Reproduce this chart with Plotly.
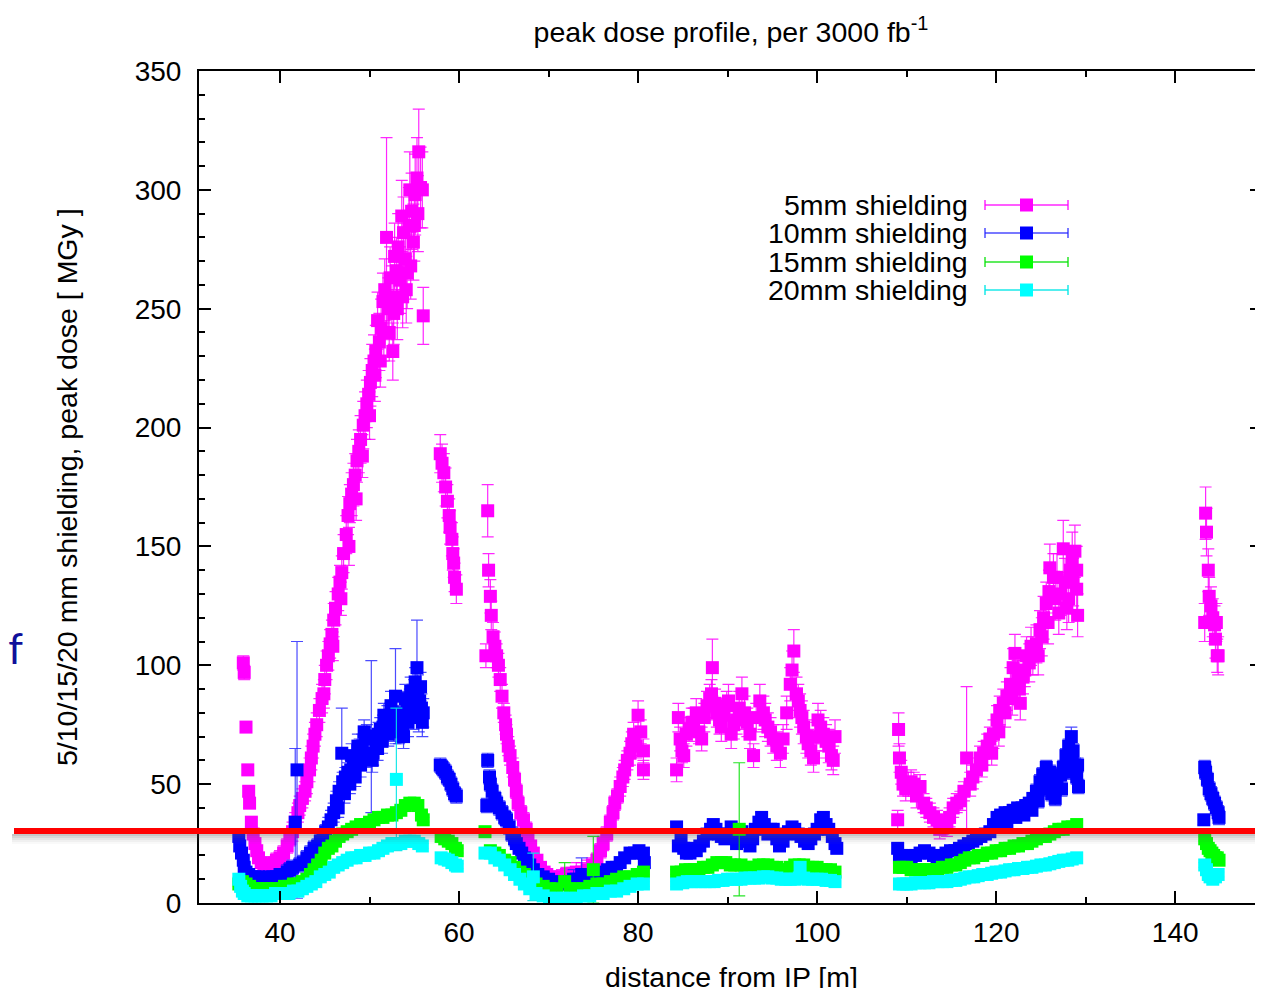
import plotly.graph_objects as go

FONT = "Liberation Sans, Arial, Helvetica, sans-serif"

# ---------------- data ----------------
series_names = ["5mm shielding", "10mm shielding", "15mm shielding", "20mm shielding"]
series_colors = ["#ff00ff", "#0000ff", "#00ff00", "#00ffff"]
bar_colors = ["rgba(255,0,255,0.85)", "rgba(30,30,255,0.8)", "rgba(0,225,0,0.85)", "rgba(0,230,230,0.9)"]

x_5mm = [
    35.9, 36.0, 36.2, 36.4, 36.5, 36.6, 36.8, 37.0, 37.2, 37.4, 37.6, 37.9, 38.2, 38.5, 38.9, 39.3, 39.6, 40.0,
    40.4, 40.8, 41.1, 41.4, 41.7, 42.0, 42.2, 42.5, 42.8, 43.0, 43.3, 43.5, 43.7, 43.9, 44.1, 44.4, 44.7, 45.0,
    45.2, 45.4, 45.6, 45.8, 46.0, 46.2, 46.5, 46.7, 46.9, 47.1, 47.4, 47.6, 47.8, 48.0, 48.2, 48.4, 48.6, 48.8,
    49.0, 49.3, 49.5, 49.7, 49.9, 50.1, 50.3, 50.5, 50.7, 50.9, 51.1, 51.3, 51.5, 51.7, 51.9, 52.1, 52.3, 52.5,
    52.7, 52.8, 53.0, 53.2, 53.4, 53.6, 53.8, 54.0, 54.2, 54.4, 54.5, 54.7, 54.9, 55.1, 55.3, 55.5, 55.7, 55.9, 56.0,
    57.9, 58.1, 58.3, 58.5, 58.7, 58.9, 59.0, 59.2, 59.3, 59.4, 59.5, 59.7,
    63.2, 63.3, 63.5, 63.6, 63.8, 63.0, 64.0, 64.2, 64.4, 64.6, 64.8, 65.0, 65.2, 65.3, 65.5, 65.7, 66.0, 66.2,
    66.4, 66.6, 66.9, 67.2, 67.5, 67.7, 68.0, 68.3, 68.7, 69.1, 69.5, 69.8, 70.3, 70.9, 71.5, 72.0, 72.6, 73.1,
    73.7, 74.3, 74.9, 75.4, 75.8, 76.1, 76.5, 76.9, 77.2, 77.4, 77.7, 78.0, 78.3, 78.5, 78.8, 79.1, 79.3, 79.5,
    79.8, 80.0, 80.3, 80.6, 80.6,
    84.3, 84.5, 84.7, 84.9, 85.1, 85.4, 85.7, 86.0, 86.2, 86.5, 86.8, 87.1, 87.4, 87.7, 88.0, 88.2, 88.3, 88.6,
    88.8, 89.1, 89.3, 89.6, 89.9, 90.1, 90.4, 90.7, 91.0, 91.3, 91.6, 91.9, 92.2, 92.5, 92.9, 93.2, 93.6, 94.0,
    94.2, 94.5, 94.8, 95.1, 95.5, 95.9, 96.2, 96.6, 97.0, 97.2, 97.4, 97.7, 97.9, 98.1, 98.3, 98.5, 98.8, 99.0,
    99.3, 99.6, 99.9, 100.1, 100.4, 100.7, 101.0, 101.3, 101.6, 101.8, 102.0,
    109.0, 109.1, 109.2, 109.4, 109.6, 109.9, 110.2, 110.5, 110.8, 111.1, 111.5, 111.9, 112.2, 112.6, 113.0,
    113.4, 113.7, 114.1, 114.5, 114.8, 115.2, 115.6, 116.0, 116.4, 116.7, 117.1, 117.4, 117.8, 118.2, 118.6,
    119.0, 119.3, 119.7, 120.1, 120.4, 120.8, 121.2, 121.6, 121.9, 122.1, 122.4, 122.7, 123.0, 123.4, 123.7,
    124.1, 124.5, 124.9, 125.3, 125.6, 125.9, 126.0, 126.4, 126.8, 127.2, 127.5, 127.9, 128.3, 128.6, 128.8,
    129.0, 129.1,
    143.3, 143.4, 143.5, 143.7, 143.8, 144.0, 144.2, 144.4, 144.5, 144.6, 144.7, 144.8,
    # scatter inside the thick bands
    44.9, 45.9, 46.8, 47.7, 48.5, 49.2, 50.0, 50.6, 51.2, 51.6, 52.2, 52.6, 53.1, 53.7, 54.1, 54.6, 55.0, 55.4,
    118.4, 119.5, 120.3, 121.0, 121.8, 122.6, 123.2, 123.9, 124.7, 125.1, 125.8, 126.6, 127.0, 127.7, 128.1,
    128.5, 129.0,
]
y_5mm = [
    101, 97, 74, 56, 47, 42, 34, 29, 25, 22, 19, 17, 16, 15, 16, 17, 18, 19,
    21, 24, 27, 30, 34, 38, 41, 44, 47, 51, 56, 61, 66, 71, 75, 81, 86, 94,
    100, 104, 109, 113, 119, 124, 130, 135, 139, 147, 155, 163, 168, 172, 176, 180, 186, 190,
    195, 201, 205, 210, 214, 219, 224, 228, 232, 245, 236, 242, 253, 258, 280, 250, 263, 255,
    248, 272, 266, 276, 262, 289, 282, 271, 265, 285, 300, 291, 278, 298, 305, 316, 301, 300, 247,
    189, 185, 181, 175, 169, 163, 158, 153, 147, 143, 137, 132,
    165, 140, 129, 121, 112, 104, 108, 104, 100, 94, 87, 80, 75, 71, 66, 62, 57, 52,
    47, 42, 38, 35, 31, 28, 24, 21, 18, 15, 13, 12, 11, 11, 11, 12, 12, 13,
    13, 14, 16, 18, 22, 25, 29, 34, 38, 42, 45, 49, 53, 56, 60, 63, 67, 71,
    66, 79, 72, 64, 56,
    56, 78, 69, 64, 62, 71, 73, 76, 76, 80, 72, 69, 78, 83, 86, 88, 99, 84,
    80, 77, 74, 79, 83, 85, 71, 75, 77, 82, 88, 80, 76, 71, 62, 78, 85, 80,
    77, 74, 72, 69, 66, 63, 69, 80, 92, 98, 106, 88, 85, 81, 78, 74, 70, 67,
    64, 61, 70, 77, 74, 71, 68, 66, 62, 60, 70,
    35, 73, 61, 55, 50, 48, 50, 51, 50, 45, 49, 42, 40, 38, 36,
    35, 31, 33, 32, 36, 40, 42, 43, 47, 61, 50, 53, 56, 61, 63,
    66, 69, 71, 77, 81, 84, 87, 92, 99, 105, 95, 84, 95, 104, 101,
    104, 109, 115, 120, 126, 131, 141, 137, 137, 130, 149, 124, 140, 135, 148,
    132, 121,
    118, 164, 156, 140, 129, 125, 120, 117, 111, 118, 104, 104,
    88, 108, 128, 150, 170, 188, 205, 222, 228, 240, 240, 232, 250, 255, 258, 268, 285, 290,
    58, 63, 72, 80, 86, 90, 98, 108, 104, 112, 118, 128, 122, 135, 128,
    145, 140,
]
err_5mm = [
    3, 3, 2, 2, 2, 2, 2, 2, 2, 2, 2, 2, 2, 2, 2, 2, 3, 3,
    3, 3, 3, 4, 4, 4, 4, 4, 4, 5, 5, 5, 5, 5, 5, 5, 6, 6,
    6, 6, 6, 6, 7, 7, 7, 7, 7, 8, 8, 8, 8, 9, 9, 9, 9, 9,
    10, 10, 10, 10, 10, 10, 11, 11, 11, 12, 12, 12, 12, 13, 42, 13, 13, 13,
    13, 14, 14, 14, 14, 15, 15, 15, 15, 16, 16, 16, 16, 17, 17, 18, 17, 16, 12,
    8, 8, 8, 8, 7, 7, 7, 7, 7, 6, 6, 6,
    11, 7, 7, 6, 6, 5, 6, 5, 5, 5, 5, 4, 4, 4, 4, 4, 4, 3,
    3, 3, 3, 3, 3, 3, 2, 2, 2, 2, 2, 2, 2, 2, 3, 3, 3, 4,
    4, 4, 3, 3, 3, 3, 3, 3, 3, 3, 3, 4, 4, 4, 4, 5, 5, 5,
    5, 6, 5, 5, 4,
    5, 6, 5, 5, 5, 5, 5, 6, 6, 6, 5, 5, 6, 6, 6, 6, 12, 6,
    6, 6, 6, 6, 6, 7, 6, 6, 6, 7, 7, 7, 6, 6, 5, 6, 7, 7,
    7, 6, 6, 6, 6, 6, 6, 7, 7, 8, 9, 7, 7, 7, 7, 7, 7, 6,
    6, 6, 6, 7, 7, 7, 7, 7, 6, 6, 7,
    4, 7, 6, 5, 5, 5, 5, 5, 5, 5, 5, 4, 4, 4, 4,
    4, 4, 4, 4, 4, 4, 4, 4, 4, 30, 5, 5, 5, 5, 5,
    5, 5, 6, 6, 6, 6, 6, 7, 8, 8, 7, 7, 7, 8, 8,
    8, 8, 8, 9, 9, 9, 10, 10, 10, 9, 12, 9, 10, 10, 11,
    9, 9,
    8, 11, 10, 9, 8, 8, 8, 8, 8, 8, 7, 8,
    6, 6, 7, 8, 9, 9, 10, 11, 11, 12, 12, 12, 13, 13, 14, 14, 15, 16,
    5, 5, 6, 6, 7, 7, 7, 8, 8, 8, 9, 9, 9, 10, 10,
    11, 10,
]

x_10mm = [
    35.4, 35.5, 35.7, 35.9, 36.0, 36.2, 36.5, 36.8, 37.2, 37.6, 38.0, 38.4, 38.8, 39.2, 39.6, 40.0, 40.4, 40.8,
    41.1, 41.4, 41.7, 41.9, 42.2, 42.6, 43.0, 43.4, 43.8, 44.2, 44.5, 44.8, 45.1, 45.4, 45.7, 46.0, 46.3, 46.6,
    46.9, 47.0, 47.3, 47.6, 47.9, 48.2, 48.5, 48.9, 49.2, 49.5, 49.7, 50.2, 50.4, 50.7, 51.0, 51.2, 51.5, 51.8,
    52.0, 52.3, 52.6, 52.9, 53.1, 53.4, 53.7, 53.9, 54.2, 54.5, 54.8, 55.0, 55.3, 55.4, 55.6, 55.8, 56.0,
    57.9, 58.1, 58.3, 58.5, 58.7, 58.9, 59.1, 59.3, 59.5, 59.7,
    63.2, 63.4, 63.5, 63.7, 63.1, 64.0, 64.2, 64.5, 64.8, 65.1, 65.3, 65.6, 65.9, 66.2, 66.4, 66.7, 67.0, 67.3,
    67.5, 67.9, 68.3, 68.8, 69.4, 70.0, 70.6, 71.2, 71.7, 72.3, 72.8, 73.1, 73.7, 74.0, 74.6, 75.2, 75.6, 76.1,
    76.6, 77.1, 77.6, 78.0, 78.5, 79.1, 79.6, 80.1, 80.6, 80.7,
    84.3, 84.5, 84.8, 85.1, 85.4, 85.8, 86.1, 86.5, 86.9, 87.3, 87.7, 88.1, 88.4, 88.7, 89.0, 89.3, 89.7, 90.0,
    90.4, 90.7, 91.0, 91.3, 91.6, 91.9, 92.2, 92.5, 92.8, 93.1, 93.5, 93.8, 94.1, 94.5, 94.8, 95.1, 95.5, 95.8,
    96.2, 96.5, 96.8, 97.2, 97.5, 97.9, 98.2, 98.6, 99.0, 99.3, 99.7, 100.0, 100.4, 100.7, 101.0, 101.3, 101.7,
    102.0, 102.2,
    109.0, 109.2, 109.5, 110.0, 110.5, 111.0, 111.5, 112.0, 112.5, 113.0, 113.4, 113.9, 114.4, 114.9, 115.4,
    115.9, 116.4, 116.9, 117.4, 117.8, 118.3, 118.8, 119.3, 119.7, 120.1, 120.5, 121.0, 121.5, 121.9, 122.4,
    122.9, 123.3, 123.7, 124.1, 124.5, 124.9, 125.2, 125.6, 125.9, 126.2, 126.5, 126.8, 127.2, 127.5, 127.8,
    128.1, 128.4, 128.6, 128.8, 129.0, 129.2,
    143.2, 143.3, 143.4, 143.6, 143.8, 144.0, 144.2, 144.4, 144.6, 144.8, 144.9,
    # scatter inside the thick bands
    46.5, 47.2, 47.8, 48.4, 49.0, 49.6, 50.3, 50.9, 51.4, 52.1, 52.7, 53.3, 53.8, 54.3, 54.9, 55.5, 55.9,
    48.0, 48.7, 49.4, 51.6, 52.4, 54.0, 54.6, 55.1, 55.7,
    120.3, 121.2, 122.2, 123.1, 124.0, 124.7, 125.4, 126.0, 126.6, 127.3, 128.0, 128.5, 129.1,
]
y_10mm = [
    28, 24, 21, 18, 15, 13, 12, 11, 11, 11, 10, 10, 11, 11, 11, 12, 12, 13,
    14, 15, 34, 56, 16, 17, 19, 21, 23, 24, 26, 28, 30, 32, 35, 38, 43, 47,
    63, 51, 53, 55, 56, 57, 60, 64, 66, 69, 70, 70, 63, 68, 71, 73, 74, 76,
    78, 79, 80, 87, 78, 76, 74, 80, 83, 84, 86, 88, 99, 90, 85, 82, 80,
    58, 57, 56, 55, 53, 52, 50, 48, 46, 45,
    60, 53, 50, 47, 41, 44, 42, 40, 38, 36, 35, 32, 29, 27, 25, 23, 21, 19,
    18, 16, 14, 12, 11, 10, 9, 8, 8, 9, 10, 10, 12, 10, 11, 11, 12, 13,
    14, 15, 15, 17, 19, 21, 21, 22, 21, 17,
    32, 24, 27, 23, 21, 21, 23, 22, 24, 26, 29, 31, 33, 31, 29, 28, 27, 29,
    32, 28, 25, 26, 30, 28, 26, 24, 27, 31, 34, 36, 33, 29, 31, 31, 27, 24,
    26, 29, 30, 32, 31, 29, 28, 26, 25, 27, 29, 31, 35, 36, 33, 31, 28,
    25, 23,
    23, 19, 20, 20, 19, 20, 21, 22, 21, 20, 19, 20, 21, 22, 22,
    23, 24, 25, 26, 27, 28, 29, 30, 33, 36, 37, 38, 38, 39, 40,
    40, 41, 42, 44, 47, 51, 54, 57, 50, 46, 48, 51, 54, 57, 62,
    66, 70, 64, 58, 53, 49,
    35, 57, 55, 52, 48, 46, 44, 42, 40, 38, 36,
    40, 46, 50, 53, 58, 62, 60, 65, 68, 71, 73, 72, 70, 76, 79, 78, 76,
    62, 66, 72, 79, 83, 86, 89, 93, 91,
    32, 34, 36, 37, 39, 43, 48, 55, 44, 48, 55, 60, 58,
]
err_10mm = [
    2, 2, 2, 2, 2, 2, 2, 2, 2, 2, 2, 2, 2, 2, 2, 2, 2, 3,
    3, 3, 31, 54, 3, 3, 3, 3, 3, 3, 3, 3, 3, 4, 4, 4, 4, 4,
    19, 4, 4, 4, 4, 4, 4, 5, 5, 5, 5, 32, 5, 5, 5, 5, 5, 5,
    5, 5, 5, 20, 5, 5, 5, 5, 6, 6, 6, 6, 20, 6, 6, 6, 6,
    3, 3, 3, 3, 3, 3, 3, 3, 3, 3,
    3, 3, 3, 3, 3, 3, 3, 3, 3, 3, 3, 3, 3, 3, 2, 2, 2, 2,
    2, 2, 2, 2, 2, 2, 2, 2, 2, 2, 4, 2, 7, 2, 2, 2, 2, 2,
    2, 2, 2, 2, 2, 2, 2, 2, 2, 2,
    2, 2, 2, 2, 2, 2, 2, 2, 2, 2, 2, 2, 2, 2, 2, 2, 2, 2,
    2, 2, 2, 2, 2, 2, 2, 2, 2, 2, 2, 2, 2, 2, 2, 2, 2, 2,
    2, 2, 2, 2, 2, 2, 2, 2, 2, 2, 2, 2, 2, 2, 2, 2, 2,
    2, 2,
    2, 2, 2, 2, 2, 2, 2, 2, 2, 2, 2, 2, 2, 2, 2,
    2, 2, 2, 2, 2, 2, 2, 2, 2, 2, 2, 2, 2, 2, 2,
    2, 2, 2, 2, 3, 3, 3, 3, 3, 3, 3, 3, 3, 3, 3,
    3, 4, 3, 3, 3, 3,
    2, 3, 3, 3, 3, 3, 3, 3, 3, 3, 3,
    4, 4, 4, 4, 5, 5, 5, 5, 5, 5, 5, 5, 5, 6, 6, 6, 6,
    5, 5, 5, 5, 6, 6, 6, 6, 6,
    2, 2, 2, 2, 2, 3, 3, 3, 3, 3, 3, 3, 3,
]

x_15mm = [
    35.4, 35.8, 36.2, 36.6, 37.0, 37.5, 38.0, 38.5, 39.0, 39.5, 40.0, 40.5, 41.0, 41.5, 42.0, 42.5, 43.0, 43.4,
    43.8, 44.2, 44.6, 45.0, 45.4, 45.8, 46.2, 46.6, 47.0, 47.5, 48.0, 48.5, 49.0, 49.5, 50.0, 50.5, 51.0, 51.5,
    52.0, 52.5, 53.0, 53.5, 54.0, 54.5, 55.0, 55.4, 55.8, 56.0,
    58.0, 58.4, 58.8, 59.2, 59.6, 59.8,
    62.9, 63.5, 64.0, 64.5, 65.1, 65.7, 66.2, 66.8, 67.3, 67.9, 68.6, 69.4, 70.1, 70.9, 71.8, 72.4, 73.1, 73.9,
    74.6, 75.0, 75.4, 76.1, 76.9, 77.6, 78.4, 79.1, 79.9, 80.6,
    84.3, 84.8, 85.3, 85.8, 86.3, 86.8, 87.3, 87.8, 88.3, 88.8, 89.3, 89.8, 90.3, 90.8, 91.3, 91.5, 92.0, 92.5,
    93.0, 93.5, 94.0, 94.5, 95.0, 95.5, 96.0, 96.5, 97.0, 97.5, 98.0, 98.5, 99.0, 99.5, 100.0, 100.5, 101.0,
    101.5, 102.0,
    109.2, 109.6, 110.0, 110.5, 111.0, 111.5, 112.0, 112.5, 113.0, 113.5, 114.0, 114.5, 115.0, 115.5, 116.0,
    116.5, 117.0, 117.5, 118.0, 118.5, 119.0, 119.5, 120.0, 120.5, 121.0, 121.5, 122.0, 122.5, 123.0, 123.5,
    124.0, 124.5, 125.0, 125.5, 126.0, 126.5, 127.0, 127.5, 128.0, 128.5, 129.0,
    143.3, 143.5, 143.7, 143.9, 144.1, 144.3, 144.5, 144.7, 144.9,
]
y_15mm = [
    8, 9, 8, 7, 6, 6, 6, 6, 6, 6, 6, 7, 7, 8, 8, 9, 10, 12,
    14, 16, 18, 21, 23, 24, 26, 28, 29, 30, 31, 32, 33, 33, 34, 35, 36, 36,
    37, 37, 38, 39, 41, 42, 42, 41, 37, 35,
    28, 27, 26, 25, 23, 22,
    30, 22, 21, 20, 18, 17, 15, 13, 12, 10, 8, 7, 6, 6, 9, 6, 6, 6,
    7, 14, 8, 8, 9, 10, 11, 11, 12, 13,
    13, 13, 14, 14, 14, 14, 15, 15, 16, 17, 17, 17, 16, 16, 31, 16, 15, 15,
    15, 16, 16, 16, 15, 15, 14, 14, 15, 16, 16, 16, 15, 15, 15, 14, 14,
    14, 13,
    15, 15, 15, 14, 14, 14, 14, 14, 14, 14, 15, 15, 16, 16, 17,
    18, 19, 19, 20, 20, 21, 21, 22, 22, 23, 23, 24, 24, 25, 25,
    26, 27, 28, 28, 29, 30, 31, 31, 32, 32, 33,
    27, 25, 23, 22, 21, 20, 19, 19, 18,
]
err_15mm = [
    1, 1, 1, 1, 1, 1, 1, 1, 1, 1, 1, 1, 1, 1, 1, 1, 1, 1,
    1, 1, 1, 1, 1, 1, 1, 1, 1, 1, 1, 1, 1, 1, 1, 1, 1, 1,
    1, 1, 1, 1, 1, 1, 1, 1, 1, 1,
    1, 1, 1, 1, 1, 1,
    1, 1, 1, 1, 1, 1, 1, 1, 1, 1, 1, 1, 1, 1, 8, 1, 1, 1,
    1, 14, 1, 1, 1, 1, 1, 1, 1, 1,
    1, 1, 1, 1, 1, 1, 1, 1, 1, 1, 1, 1, 1, 1, 28, 1, 1, 1,
    1, 1, 1, 1, 1, 1, 1, 1, 1, 1, 1, 1, 1, 1, 1, 1, 1,
    1, 1,
    1, 1, 1, 1, 1, 1, 1, 1, 1, 1, 1, 1, 1, 1, 1,
    1, 1, 1, 1, 1, 1, 1, 1, 1, 1, 1, 1, 1, 1, 1,
    1, 1, 1, 1, 1, 1, 1, 1, 1, 1, 1,
    1, 1, 1, 1, 1, 1, 1, 1, 1,
]

x_20mm = [
    35.4, 35.6, 35.8, 36.0, 36.4, 36.8, 37.2, 37.6, 38.0, 38.5, 39.0, 39.5, 40.0, 40.5, 41.0, 41.5, 42.0, 42.5,
    43.0, 43.5, 44.0, 44.5, 45.0, 45.5, 46.0, 46.5, 47.0, 47.5, 48.0, 48.5, 49.0, 49.5, 50.0, 50.5, 51.0, 51.5,
    52.0, 52.5, 53.0, 53.0, 53.5, 54.0, 54.5, 55.0, 55.5, 55.9,
    58.0, 58.4, 58.8, 59.2, 59.6, 59.8,
    62.9, 63.5, 64.0, 64.5, 65.1, 65.7, 66.2, 66.8, 67.3, 67.9, 68.3, 68.6, 69.4, 70.1, 70.9, 71.6, 72.4, 73.1,
    73.9, 74.6, 75.4, 76.1, 76.9, 77.6, 78.4, 79.1, 79.9, 80.6,
    84.3, 85.0, 85.5, 86.0, 86.5, 87.0, 87.5, 88.0, 88.5, 89.0, 89.5, 90.0, 90.5, 91.0, 91.5, 92.0, 92.5, 93.0,
    93.5, 94.0, 94.5, 95.0, 95.5, 96.0, 96.5, 97.0, 97.5, 98.0, 98.1, 98.5, 99.0, 99.5, 100.0, 100.5, 101.0,
    101.5, 102.0,
    109.2, 109.6, 110.0, 110.5, 111.0, 111.5, 112.0, 112.5, 113.0, 113.5, 114.0, 114.5, 115.0, 115.5, 116.0,
    116.5, 117.0, 117.5, 118.0, 118.5, 119.0, 119.5, 120.0, 120.5, 121.0, 121.5, 122.0, 122.5, 123.0, 123.5,
    124.0, 124.5, 125.0, 125.5, 126.0, 126.5, 127.0, 127.5, 128.0, 128.5, 129.0,
    143.3, 143.5, 143.7, 143.9, 144.2, 144.5, 144.8,
]
y_20mm = [
    10, 7, 5, 4, 3, 3, 3, 3, 3, 3, 3, 4, 4, 4, 4, 5, 5, 6,
    7, 8, 9, 11, 12, 13, 15, 16, 17, 18, 19, 19, 20, 20, 21, 21, 22, 23,
    24, 25, 52, 25, 25, 26, 26, 26, 25, 24,
    19, 18.5, 18, 17, 16, 15.5,
    21, 21, 19, 18, 16, 14, 12, 10, 8, 6, 11, 4, 3, 2, 2, 2, 2, 2,
    3, 3, 4, 4, 5, 5, 6, 7, 8, 8,
    8, 8.5, 9, 9, 9, 9, 9, 9, 9, 9.5, 9.5, 10, 10, 10, 10, 10.5, 10.5, 10.5,
    10.5, 11, 11, 10.5, 10.5, 10, 10, 10, 10, 10.5, 15, 10.5, 10, 10, 10, 10, 9.5,
    9.5, 9,
    8, 8, 8, 8, 8.5, 8.5, 8.5, 8.5, 9, 9, 9, 9, 9.5, 9.5, 10,
    10.5, 11, 11, 11.5, 12, 12, 12.5, 13, 13, 13.5, 14, 14, 14.5, 14.5, 15,
    15, 15.5, 16, 16, 16.5, 17, 17.5, 18, 18, 18.5, 19,
    16, 14, 12, 11, 10, 11, 12,
]
err_20mm = [
    1, 1, 1, 1, 1, 1, 1, 1, 1, 1, 1, 1, 1, 1, 1, 1, 1, 1,
    1, 1, 1, 1, 1, 1, 1, 1, 1, 1, 1, 1, 1, 1, 1, 1, 1, 1,
    1, 1, 30, 1, 1, 1, 1, 1, 1, 1,
    1, 1, 1, 1, 1, 1,
    1, 1, 1, 1, 1, 1, 1, 1, 1, 1, 10, 1, 1, 1, 1, 1, 1, 1,
    1, 1, 1, 1, 1, 1, 1, 1, 1, 1,
    1, 1, 1, 1, 1, 1, 1, 1, 1, 1, 1, 1, 1, 1, 1, 1, 1, 1,
    1, 1, 1, 1, 1, 1, 1, 1, 1, 1, 2, 1, 1, 1, 1, 1, 1,
    1, 1,
    1, 1, 1, 1, 1, 1, 1, 1, 1, 1, 1, 1, 1, 1, 1,
    1, 1, 1, 1, 1, 1, 1, 1, 1, 1, 1, 1, 1, 1, 1,
    1, 1, 1, 1, 1, 1, 1, 1, 1, 1, 1,
    1, 1, 1, 1, 1, 1, 1,
]

x_ticks = [40, 60, 80, 100, 120, 140]
y_ticks = [0, 50, 100, 150, 200, 250, 300, 350]
limit_dose = 30.3  # red reference line [MGy]

all_x = [x_5mm, x_10mm, x_15mm, x_20mm]
all_y = [y_5mm, y_10mm, y_15mm, y_20mm]
all_e = [err_5mm, err_10mm, err_15mm, err_20mm]
for xs, ys, es in zip(all_x, all_y, all_e):
    assert len(xs) == len(ys) == len(es), (len(xs), len(ys), len(es))

# ---------------- layout geometry ----------------
# page pixels of the target picture; the page body adds an 8 px offset
OFF = 8
PAGE_W, PAGE_H = 1263, 988
PLOT_L, PLOT_R, PLOT_T, PLOT_B = 199, 1262, 71, 903
W, H = PAGE_W - OFF, PAGE_H - OFF
L, T = PLOT_L - OFF, PLOT_T - OFF
R = W - (PLOT_R - OFF)
B = H - (PLOT_B - OFF)
PW, PH = PLOT_R - PLOT_L, PLOT_B - PLOT_T


def px_x(p):
    return (p - PLOT_L) / PW


def px_y(p):
    return (PLOT_B - p) / PH


fig = go.Figure()
for name, col, bcol, xs, ys, es in zip(series_names, series_colors, bar_colors, all_x, all_y, all_e):
    fig.add_trace(go.Scatter(
        x=xs, y=ys, mode="markers", name=name, showlegend=False,
        marker=dict(symbol="square", size=13, color=col, line=dict(width=0)),
        error_y=dict(type="data", array=es, visible=True, color=bcol, thickness=1.2, width=6),
    ))

axis_common = dict(
    showline=True, linewidth=2, linecolor="black", mirror="ticks",
    ticks="inside", ticklen=12, tickwidth=1.5, tickcolor="black",
    showgrid=False, zeroline=False,
    tickfont=dict(family=FONT, size=28, color="black"),
)
fig.update_xaxes(range=[30.95, 149.7], tickvals=x_ticks, ticktext=[str(v) for v in x_ticks],
                 minor=dict(dtick=10, tick0=0, ticks="inside", ticklen=6, tickwidth=1.5, tickcolor="black"),
                 ticklabelstandoff=3, **axis_common)
fig.update_yaxes(range=[0, 350], tickvals=y_ticks, ticktext=[str(v) for v in y_ticks],
                 minor=dict(dtick=10, tick0=0, ticks="inside", ticklen=6, tickwidth=1.5, tickcolor="black"),
                 ticklabelstandoff=10, **axis_common)

annotations = [
    dict(text="5/10/15/20 mm shielding, peak dose [ MGy ]", x=px_x(67), y=px_y(487), xref="paper", yref="paper",
         textangle=-90, showarrow=False, font=dict(family=FONT, size=28.5, color="black"),
         xanchor="center", yanchor="middle"),
    dict(text="distance from IP [m]", x=px_x(731), y=px_y(977), xref="paper", yref="paper",
         showarrow=False, font=dict(family=FONT, size=28.5, color="black"), xanchor="center", yanchor="middle"),
    dict(text="of", x=px_x(25), y=px_y(648), xref="paper", yref="paper", showarrow=False,
         font=dict(family="Lato, Open Sans, sans-serif", size=42, color="#10109a"),
         xanchor="right", yanchor="middle"),
]

shapes = []
# legend (gnuplot style: text left, sample right)
legend_rows = [205, 233, 262, 290]
for name, col, bcol, ry in zip(series_names, series_colors, bar_colors, legend_rows):
    annotations.append(dict(text=name, x=px_x(970), y=px_y(ry), xref="paper", yref="paper", showarrow=False,
                            font=dict(family=FONT, size=28.5, color="black"), xanchor="right", yanchor="middle"))
    shapes.append(dict(type="line", xref="paper", yref="paper", x0=px_x(985), x1=px_x(1068),
                       y0=px_y(ry), y1=px_y(ry), line=dict(color=bcol, width=1.5)))
    for cx in (985, 1068):
        shapes.append(dict(type="line", xref="paper", yref="paper", x0=px_x(cx), x1=px_x(cx),
                           y0=px_y(ry - 5), y1=px_y(ry + 5), line=dict(color=bcol, width=1.5)))
    shapes.append(dict(type="rect", xref="paper", yref="paper", x0=px_x(1020), x1=px_x(1033),
                       y0=px_y(ry + 6.5), y1=px_y(ry - 6.5), fillcolor=col, line=dict(width=0)))

# red reference line with a soft shadow
unit = 350 / PH  # data units per pixel
for i, a in enumerate([0.35, 0.25, 0.16, 0.09, 0.04]):
    shapes.append(dict(type="rect", xref="paper", yref="y", x0=px_x(12), x1=1.01,
                       y0=limit_dose - (3 + 2 * i) * unit, y1=limit_dose - (5 + 2 * i) * unit,
                       fillcolor=f"rgba(90,90,90,{a})", line=dict(width=0), layer="above"))
shapes.append(dict(type="line", xref="paper", yref="y", x0=px_x(14), x1=1.01, y0=limit_dose, y1=limit_dose,
                   line=dict(color="#ff0000", width=6), layer="above"))

fig.update_layout(
    width=W, height=H, margin=dict(l=L, r=R, t=T, b=B, autoexpand=False),
    paper_bgcolor="white", plot_bgcolor="white",
    title=dict(text="peak dose profile, per 3000 fb<sup>-1</sup>", x=px_x(731), xref="paper", xanchor="center",
               y=1 - (32 - OFF) / H, yref="container", yanchor="middle",
               font=dict(family=FONT, size=28.5, color="black")),
    annotations=annotations, shapes=shapes, showlegend=False,
)

fig.write_html("out.html")
